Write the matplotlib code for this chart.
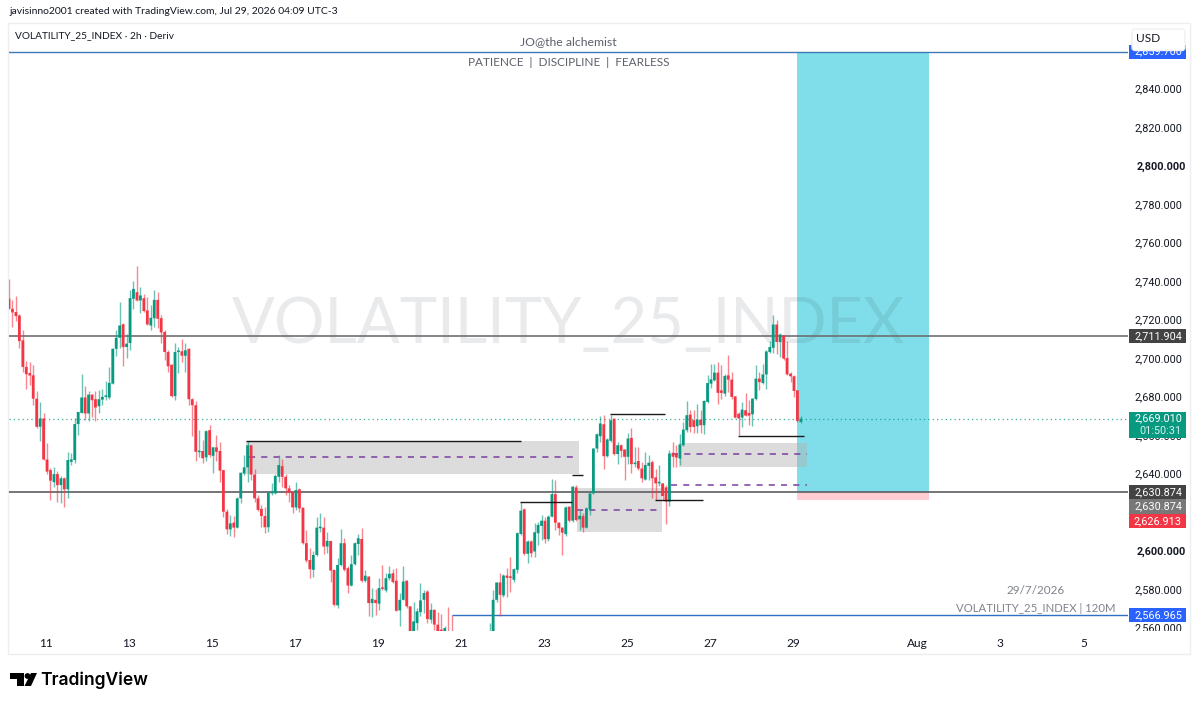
import numpy as np
import matplotlib
matplotlib.use("Agg")
import matplotlib.pyplot as plt
from matplotlib.patches import Rectangle, Polygon, Circle, FancyBboxPatch

plt.rcParams['font.family'] = ['Lato', 'Noto Sans', 'DejaVu Sans']

# 2h candles (bars 130-139 sit below the visible pane)
opens = [
    2731.3, 2726.1, 2724.4, 2722.6, 2709.7, 2695.9, 2692.7, 2691.5, 2679.4, 2664.8,
    2669.1, 2647.8, 2642.3, 2636.0, 2640.2, 2634.5, 2638.0, 2632.3, 2646.6, 2647.5,
    2666.2, 2672.0, 2680.0, 2671.7, 2681.5, 2679.1, 2675.5, 2678.9, 2680.3, 2680.0,
    2687.2, 2705.3, 2711.0, 2718.0, 2706.2, 2708.3, 2731.3, 2734.7, 2730.4, 2731.6,
    2725.2, 2717.4, 2721.2, 2730.7, 2721.2, 2714.0, 2703.6, 2697.0, 2680.7, 2703.6,
    2704.0, 2701.7, 2705.3, 2679.1, 2676.0, 2651.6, 2652.2, 2648.9, 2663.0, 2649.7,
    2654.1, 2652.2, 2642.3, 2620.7, 2611.5, 2615.0, 2612.4, 2627.6, 2640.5, 2643.7,
    2655.2, 2640.0, 2627.6, 2622.1, 2618.4, 2612.6, 2630.2, 2630.2, 2638.8, 2644.3,
    2638.8, 2632.8, 2631.0, 2622.9, 2632.3, 2622.8, 2604.3, 2595.6, 2590.5, 2598.2,
    2612.1, 2612.4, 2602.6, 2605.5, 2590.5, 2572.0, 2593.0, 2604.3, 2591.3, 2582.3,
    2593.4, 2603.9, 2606.5, 2584.8, 2587.0, 2573.2, 2574.9, 2572.9, 2581.0, 2579.8,
    2586.1, 2588.7, 2584.8, 2569.4, 2574.9, 2584.9, 2571.5, 2557.7, 2562.8, 2568.5,
    2574.9, 2579.2, 2564.6, 2569.7, 2562.0, 2559.4, 2555.8, 2558.0, 2556.0, 2552.0,
    2548.0, 2545.0, 2547.0, 2549.0, 2545.0, 2548.0, 2551.0, 2549.0, 2552.0, 2554.0,
    2557.0, 2574.9, 2583.9, 2577.2, 2587.5, 2586.7, 2585.3, 2590.5, 2609.1, 2621.9,
    2598.8, 2605.2, 2600.0, 2609.5, 2613.3, 2616.0, 2606.4, 2618.1, 2629.8, 2615.0,
    2612.4, 2609.0, 2623.3, 2616.0, 2633.3, 2616.7, 2618.4, 2612.4, 2621.9, 2630.2,
    2653.5, 2659.9, 2666.1, 2649.5, 2657.5, 2669.0, 2650.6, 2655.2, 2653.0, 2649.2,
    2659.0, 2645.4, 2647.0, 2643.1, 2637.4, 2644.5, 2646.4, 2638.5, 2635.4, 2635.4,
    2633.3, 2625.9, 2651.3, 2650.6, 2648.3, 2655.2, 2663.0, 2671.1, 2668.2, 2665.1,
    2668.5, 2665.6, 2677.7, 2687.2, 2688.9, 2692.9, 2683.7, 2682.0, 2691.5, 2689.3,
    2680.6, 2671.6, 2669.6, 2673.4, 2672.0, 2671.3, 2679.2, 2689.8, 2687.5, 2692.0,
    2703.6, 2705.8, 2717.9, 2708.8, 2712.2, 2700.5, 2692.4, 2691.0, 2683.7, 2667.3,
]
highs = [
    2741.6, 2730.7, 2732.5, 2723.5, 2714.9, 2699.0, 2698.4, 2696.7, 2683.4, 2677.7,
    2671.7, 2656.5, 2643.2, 2644.0, 2642.0, 2639.2, 2638.9, 2651.8, 2651.0, 2669.1,
    2672.5, 2692.0, 2685.8, 2683.4, 2681.7, 2683.4, 2684.1, 2684.6, 2688.6, 2695.9,
    2705.9, 2714.9, 2729.5, 2718.7, 2713.1, 2735.9, 2740.4, 2748.5, 2737.3, 2733.9,
    2732.1, 2727.8, 2735.9, 2734.7, 2722.6, 2714.9, 2704.8, 2697.6, 2708.3, 2706.2,
    2710.5, 2708.3, 2705.7, 2679.8, 2678.2, 2663.0, 2657.9, 2663.0, 2665.6, 2654.4,
    2660.4, 2657.0, 2642.3, 2621.9, 2619.0, 2618.4, 2628.5, 2641.4, 2650.0, 2657.5,
    2655.2, 2643.1, 2629.3, 2624.1, 2623.3, 2631.0, 2635.4, 2640.5, 2650.0, 2648.3,
    2640.5, 2634.5, 2631.4, 2635.9, 2632.8, 2622.8, 2611.2, 2601.7, 2600.5, 2618.1,
    2619.8, 2617.8, 2610.3, 2605.5, 2590.5, 2596.5, 2611.5, 2606.9, 2592.5, 2598.2,
    2605.1, 2609.1, 2612.0, 2590.5, 2587.4, 2581.0, 2580.4, 2586.1, 2593.0, 2588.7,
    2592.5, 2590.8, 2591.3, 2578.4, 2592.5, 2584.9, 2571.5, 2573.7, 2570.6, 2583.6,
    2580.1, 2579.8, 2573.2, 2570.1, 2568.4, 2567.7, 2561.1, 2571.1, 2566.8, 2555.0,
    2552.0, 2550.0, 2551.0, 2553.0, 2550.0, 2553.0, 2555.0, 2554.0, 2556.0, 2562.8,
    2579.8, 2584.4, 2588.7, 2588.4, 2591.3, 2597.4, 2591.3, 2610.3, 2625.9, 2622.4,
    2606.0, 2606.0, 2614.7, 2615.5, 2619.0, 2618.1, 2619.0, 2637.4, 2637.1, 2615.5,
    2612.9, 2623.6, 2623.6, 2634.0, 2634.5, 2621.6, 2619.8, 2623.3, 2630.5, 2653.9,
    2661.3, 2670.3, 2670.8, 2658.7, 2670.8, 2669.0, 2657.0, 2656.1, 2653.5, 2661.3,
    2663.9, 2654.4, 2654.4, 2646.6, 2651.8, 2650.1, 2647.5, 2643.1, 2644.9, 2635.7,
    2634.5, 2652.6, 2657.0, 2655.2, 2660.9, 2667.3, 2678.2, 2673.7, 2673.4, 2676.8,
    2673.4, 2678.6, 2691.5, 2697.2, 2697.6, 2698.4, 2696.7, 2692.4, 2702.2, 2693.2,
    2680.6, 2672.5, 2677.7, 2682.4, 2678.6, 2679.9, 2696.7, 2693.2, 2697.6, 2704.5,
    2709.6, 2722.6, 2720.0, 2713.4, 2712.7, 2709.3, 2693.2, 2691.5, 2683.7, 2670.3,
]
lows = [
    2726.1, 2716.6, 2719.7, 2705.9, 2693.3, 2684.6, 2686.4, 2676.0, 2664.4, 2657.5,
    2647.5, 2640.2, 2626.8, 2633.7, 2625.9, 2625.4, 2623.0, 2627.6, 2644.9, 2645.8,
    2660.4, 2671.7, 2668.2, 2667.9, 2670.0, 2667.9, 2672.0, 2676.0, 2678.6, 2679.4,
    2686.9, 2701.4, 2705.9, 2696.2, 2700.7, 2704.5, 2726.1, 2730.0, 2724.0, 2724.4,
    2717.4, 2714.9, 2716.6, 2716.2, 2708.3, 2699.7, 2693.3, 2680.3, 2678.6, 2692.7,
    2698.4, 2693.3, 2676.0, 2660.1, 2647.2, 2649.2, 2645.8, 2647.2, 2649.2, 2641.0,
    2647.2, 2636.3, 2618.0, 2609.1, 2608.1, 2607.4, 2612.1, 2625.0, 2639.7, 2636.2,
    2637.1, 2625.9, 2621.2, 2612.9, 2609.5, 2610.3, 2629.3, 2629.8, 2636.2, 2633.6,
    2629.3, 2625.9, 2620.2, 2621.6, 2620.7, 2603.9, 2594.8, 2586.1, 2586.7, 2597.7,
    2610.3, 2598.8, 2599.4, 2584.4, 2571.8, 2570.6, 2592.5, 2590.1, 2578.4, 2582.2,
    2593.1, 2598.2, 2584.4, 2584.1, 2566.6, 2565.9, 2567.2, 2569.7, 2580.1, 2579.2,
    2585.3, 2583.6, 2568.9, 2561.1, 2574.6, 2570.6, 2553.0, 2553.0, 2559.4, 2566.3,
    2568.0, 2562.8, 2562.8, 2559.4, 2552.0, 2551.0, 2552.0, 2550.0, 2549.0, 2546.0,
    2543.0, 2541.0, 2544.0, 2543.0, 2542.0, 2545.0, 2547.0, 2546.0, 2548.0, 2550.0,
    2553.0, 2574.0, 2566.3, 2576.6, 2576.6, 2579.2, 2584.4, 2588.7, 2608.6, 2598.2,
    2593.9, 2597.4, 2597.4, 2603.4, 2606.0, 2604.3, 2605.2, 2617.8, 2611.2, 2608.6,
    2598.2, 2608.1, 2615.5, 2615.5, 2616.0, 2611.2, 2610.3, 2612.1, 2619.0, 2629.8,
    2651.8, 2657.0, 2643.1, 2649.2, 2657.0, 2650.1, 2645.7, 2649.2, 2637.1, 2645.7,
    2640.6, 2644.0, 2642.3, 2636.2, 2637.1, 2637.1, 2627.6, 2626.7, 2634.0, 2626.7,
    2614.3, 2623.6, 2644.0, 2644.0, 2644.9, 2654.7, 2662.2, 2662.2, 2661.6, 2661.6,
    2661.6, 2660.9, 2677.2, 2685.1, 2688.6, 2676.5, 2679.4, 2680.6, 2682.9, 2679.4,
    2669.1, 2660.4, 2664.7, 2670.3, 2665.6, 2665.1, 2678.9, 2683.7, 2687.2, 2684.6,
    2703.1, 2703.1, 2702.7, 2701.0, 2699.3, 2691.5, 2688.0, 2680.3, 2667.3, 2667.0,
]
closes = [
    2726.1, 2724.2, 2722.3, 2709.3, 2695.9, 2692.1, 2691.4, 2679.4, 2664.8, 2669.1,
    2647.8, 2641.5, 2636.8, 2640.2, 2634.5, 2638.0, 2632.3, 2647.5, 2647.8, 2666.2,
    2672.5, 2680.0, 2671.7, 2681.5, 2678.6, 2674.8, 2679.1, 2680.3, 2680.8, 2687.6,
    2705.3, 2711.0, 2717.4, 2706.2, 2708.0, 2731.6, 2736.4, 2730.4, 2733.0, 2724.9,
    2718.0, 2721.4, 2730.7, 2720.9, 2713.8, 2703.6, 2696.2, 2680.7, 2703.6, 2704.0,
    2701.7, 2704.5, 2679.1, 2676.0, 2651.8, 2652.2, 2648.4, 2662.5, 2650.1, 2654.1,
    2651.8, 2642.0, 2620.7, 2611.5, 2614.6, 2612.4, 2627.6, 2640.9, 2643.7, 2655.2,
    2640.0, 2627.6, 2621.6, 2618.4, 2612.6, 2630.5, 2630.5, 2639.2, 2644.9, 2638.8,
    2632.8, 2630.5, 2622.9, 2631.9, 2622.4, 2604.3, 2595.3, 2590.8, 2598.2, 2612.4,
    2612.4, 2602.6, 2605.5, 2590.1, 2572.3, 2593.0, 2604.3, 2590.5, 2582.3, 2593.4,
    2604.3, 2606.9, 2584.8, 2587.4, 2573.2, 2575.4, 2573.2, 2581.0, 2580.6, 2586.1,
    2588.4, 2584.1, 2569.2, 2574.9, 2584.4, 2571.5, 2557.7, 2563.7, 2568.9, 2574.6,
    2578.4, 2564.9, 2569.7, 2562.0, 2556.8, 2555.0, 2560.2, 2554.0, 2552.0, 2548.0,
    2545.0, 2547.0, 2549.0, 2545.0, 2548.0, 2551.0, 2549.0, 2552.0, 2554.0, 2557.0,
    2574.9, 2583.9, 2577.5, 2587.5, 2586.3, 2586.3, 2590.8, 2609.5, 2621.2, 2598.8,
    2605.2, 2599.1, 2610.0, 2613.8, 2616.0, 2606.4, 2618.1, 2629.8, 2615.0, 2612.1,
    2609.8, 2622.9, 2616.0, 2633.7, 2616.4, 2618.6, 2612.4, 2622.4, 2630.2, 2653.5,
    2660.9, 2666.5, 2649.5, 2658.2, 2668.2, 2650.6, 2655.2, 2652.3, 2649.2, 2658.7,
    2645.4, 2645.7, 2643.1, 2638.0, 2644.9, 2646.1, 2638.0, 2635.4, 2635.7, 2628.8,
    2625.9, 2650.9, 2649.2, 2648.8, 2655.6, 2663.3, 2670.8, 2664.7, 2664.7, 2668.5,
    2665.6, 2678.2, 2687.5, 2689.4, 2692.9, 2682.4, 2682.4, 2691.2, 2689.3, 2680.3,
    2669.6, 2669.1, 2673.7, 2670.6, 2670.6, 2679.4, 2689.8, 2688.0, 2692.0, 2703.9,
    2706.2, 2717.9, 2708.8, 2712.7, 2700.2, 2692.0, 2691.0, 2683.4, 2667.9, 2669.0,
]

# axis labels
day_labels = ['11', '13', '15', '17', '19', '21', '23', '25', '27', '29', 'Aug', '3', '5']
day_bars = [10.7, 34.7, 58.7, 82.7, 106.7, 130.7, 154.7, 178.7, 202.7, 226.7, 262.7, 286.7, 310.7]
price_ticks = [2560, 2580, 2600, 2620, 2640, 2660, 2680, 2700, 2720, 2740, 2760, 2780, 2800, 2820, 2840]
bold_ticks = [2600, 2800]

# horizontal levels
top_level = 2859.7
upper_level = 2711.904
last_price = 2669.010
lower_level = 2630.874
stop_level = 2626.913
low_level = 2566.965

# drawn zones: (start bar, end bar, bottom price, top price)
zones = [(68.5, 164.8, 2640.3, 2657.4), (164.3, 188.8, 2610.1, 2633.0), (193.8, 230.8, 2643.9, 2656.4)]
# dashed midlines and black levels: (start bar, end bar, price)
midlines = [(69.4, 164.8, 2649.1), (164.3, 188.8, 2621.6), (191.7, 230.8, 2650.4), (191.4, 230.8, 2634.3)]
black_levels = [(68.5, 148.0, 2657.4), (147.8, 162.8, 2625.7), (162.8, 166.0, 2639.7),
                (173.8, 189.7, 2671.2), (186.8, 200.7, 2626.8), (210.8, 229.9, 2660.0)]
position_bars = (227.9, 266.0)
low_level_start = 128.1

GREEN = '#089981'
RED = '#f23645'
TEXT = '#131722'
GREY_TEXT = '#5d606b'
W, H = 1199, 706
TOP, BOTTOM = 25, 631
LEFT, RIGHT = 9, 1128


def pixel_axes(zorder):
    # axes covering the whole figure, in image pixels
    a = fig.add_axes([0, 0, 1, 1], zorder=zorder)
    a.set_xlim(0, W)
    a.set_ylim(H, 0)
    a.axis('off')
    a.patch.set_visible(False)
    return a


def draw_badge(ax, y, label, color, height=7.3, second=None):
    # coloured price tag on the right scale
    ax.add_patch(Rectangle((1, y - height / 2), 57, height, color=color, lw=0, zorder=5))
    if second is None:
        ax.text(54, y, label, color='white', family='Roboto', ha='right', va='center',
                fontsize=7.8, zorder=6, clip_on=True)
    else:
        ax.text(54, y + height * 0.26, label, color='white', family='Roboto', ha='right', va='center',
                fontsize=7.8, zorder=6)
        ax.text(54, y - height * 0.24, second, color='#d5f2ec', family='Roboto', ha='right', va='center',
                fontsize=7.8, zorder=6)


fig = plt.figure(figsize=(W / 100, H / 100), dpi=100, facecolor='white')

# frame and header go under the candles
bg = pixel_axes(0)
bg.add_patch(Rectangle((8, 23), 1182, 631, fill=False, ec='#eceef2', lw=1))
bg.text(9, 12, 'javisinno2001 created with TradingView.com, Jul 29, 2026 04:09 UTC-3',
        color=TEXT, fontsize=7.5, va='center')
bg.text(15, 36, 'VOLATILITY_25_INDEX · 2h · Deriv', color=TEXT, fontsize=7.3, va='center')
bg.text(568.5, 41.5, 'JO@the alchemist', color=GREY_TEXT, fontsize=8.85, ha='center', va='center')
bg.text(568.5, 62, 'PATIENCE  |  DISCIPLINE  |  FEARLESS', color=GREY_TEXT, fontsize=8.45, ha='center', va='center')
bg.text(1065, 590, '29/7/2026', color='#80838c', fontsize=8.5, ha='right', va='center')
bg.text(1115, 609, 'VOLATILITY_25_INDEX | 120M', color='#80838c', fontsize=8.2, ha='right', va='center')

# TradingView logo
bg.add_patch(Polygon([(10, 673), (24, 673), (24, 686), (17, 686), (17, 679), (10, 679)], color='black', lw=0))
bg.add_patch(Circle((27.5, 676), 2.9, color='black', lw=0))
bg.add_patch(Polygon([(31, 673), (37, 673), (31, 686), (24.5, 686)], color='black', lw=0))
bg.text(40, 680, 'TradingView', color='black', fontsize=12.6, fontweight='semibold', family='Inter', va='center')

# main pane
ax = fig.add_axes([LEFT / W, 1 - BOTTOM / H, (RIGHT - LEFT) / W, (BOTTOM - TOP) / H], zorder=1)
ax.patch.set_visible(False)
for s in ax.spines.values():
    s.set_visible(False)
ax.set_xlim(0, 323.6)
ax.set_ylim(2558.7, 2873.5)
ax.set_yticks([])
ax.set_xticks(day_bars)
ax.set_xticklabels(day_labels, fontsize=8.6, color=TEXT)
ax.tick_params(axis='x', length=0, pad=5)

# position tool behind everything else
ax.add_patch(Rectangle((position_bars[0], lower_level), position_bars[1] - position_bars[0],
                       top_level - lower_level, color='#80deea', lw=0, zorder=1))
ax.add_patch(Rectangle((position_bars[0], stop_level), position_bars[1] - position_bars[0],
                       lower_level - stop_level, color='#ffcdd2', lw=0, zorder=1))

# the watermark shows through the position tool
ax.text(568.5, 325, 'VOLATILITY_25_INDEX', transform=bg.transData, color=TEXT, alpha=0.09,
        fontsize=45.5, ha='center', va='center', zorder=1.2)

for x0, x1, y0, y1 in zones:
    ax.add_patch(Rectangle((x0, y0), x1 - x0, y1 - y0, color='#b2b2b2', alpha=0.45, lw=0, zorder=1.5))

ax.axhline(top_level, color='#3d7ab5', lw=1, zorder=2)
ax.axhline(upper_level, color='#6d6f73', lw=1.2, zorder=2)
ax.axhline(lower_level, color='#5c5e62', lw=1.2, zorder=2)
ax.axhline(last_price, color=GREEN, lw=0.9, ls=(0, (1, 2.5)), alpha=0.8, zorder=2)
ax.hlines(low_level, low_level_start, 323.6, color='#2f6fc4', lw=1, zorder=2)

for x0, x1, y in midlines:
    ax.hlines(y, x0, x1, color='#7b3fa0', lw=1.1, ls=(0, (4, 4)), zorder=2)
for x0, x1, y in black_levels:
    ax.hlines(y, x0, x1, color='#1a1a1a', lw=1, zorder=4)

# candles
o = np.array(opens)
h = np.array(highs)
l = np.array(lows)
c = np.array(closes)
x = np.arange(len(o))
colors = [GREEN if cc >= oo else RED for oo, cc in zip(o, c)]
ax.vlines(x, l, h, colors=colors, lw=1, alpha=0.6, zorder=3)
bars = ax.bar(x, np.maximum(np.abs(c - o), 0.8), bottom=np.minimum(o, c), width=0.8, color=colors, lw=0, zorder=3.5)
for b in bars:
    b.set_snap(False)

# price scale
ax_price = fig.add_axes([RIGHT / W, 1 - BOTTOM / H, 62 / W, (BOTTOM - TOP) / H], zorder=2)
ax_price.set_xlim(0, 62)
ax_price.set_ylim(ax.get_ylim())
ax_price.axis('off')
ax_price.patch.set_visible(False)
for p in price_ticks:
    weight = 'bold' if p in bold_ticks else 'normal'
    ax_price.text(54 if weight == 'normal' else 58, p, f'{p:,.3f}', color=TEXT, family='Roboto', fontsize=7.8,
                  fontweight=weight, ha='right', va='center', clip_on=True, zorder=2)

draw_badge(ax_price, top_level, f'{top_level:,.3f}', '#2962ff')
draw_badge(ax_price, upper_level, f'{upper_level:,.3f}', '#434343')
draw_badge(ax_price, last_price - 3.2, f'{last_price:,.3f}', GREEN, height=13.5, second='01:50:31')
draw_badge(ax_price, lower_level, f'{lower_level:,.3f}', '#434343')
draw_badge(ax_price, lower_level - 7.5, f'{lower_level:,.3f}', '#787878')
draw_badge(ax_price, lower_level - 15, f'{stop_level:,.3f}', RED)
draw_badge(ax_price, low_level, f'{low_level:,.3f}', '#2962ff')

# currency box on top of the scale
top = pixel_axes(3)
top.add_patch(FancyBboxPatch((1132, 29), 53, 21.5, boxstyle='round,pad=0,rounding_size=3',
                             fc='white', ec='#eef0f3', lw=1, zorder=5))
top.text(1148, 39, 'USD', color=TEXT, fontsize=8.6, ha='center', va='center', zorder=6)

fig.savefig('out.png', dpi=100)
